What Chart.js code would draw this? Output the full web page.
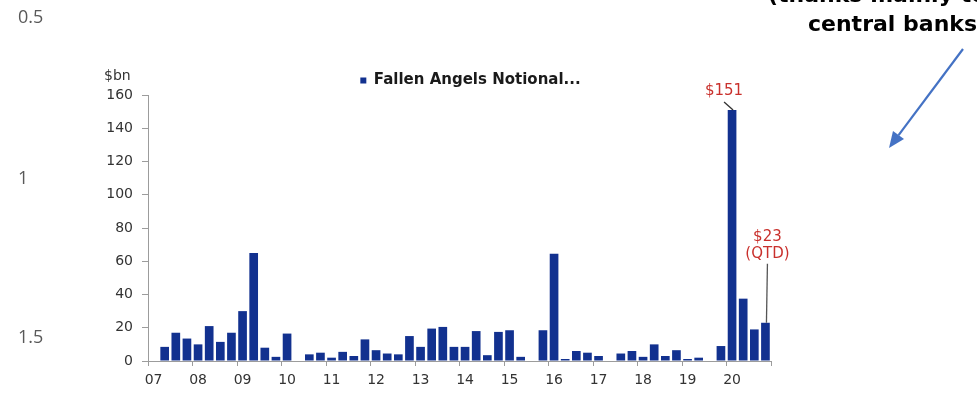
<!DOCTYPE html>
<html>
<head>
<meta charset="utf-8">
<script src="https://cdn.jsdelivr.net/npm/chart.js@4/dist/chart.umd.min.js"></script>
<style>
  html, body { margin: 0; padding: 0; background: #fff; width: 977px; height: 401px; overflow: hidden; }
  #wrap { position: relative; width: 977px; height: 401px; overflow: hidden; }
  #chart { position: absolute; left: 0; top: 0; }
  .side { position: absolute; left: 18px; font-family: "Open Sans", "Liberation Sans", sans-serif; font-size: 18px; color: #595959; line-height: 1; }
  .note { position: absolute; font-family: "DejaVu Sans", sans-serif; font-weight: bold; font-size: 22px; color: #000; white-space: nowrap; line-height: 1; }
  #arrow { position: absolute; left: 0; top: 0; }
</style>
</head>
<body>
<div id="wrap">
  <canvas id="chart" width="977" height="401"></canvas>
  <div class="side" style="top:7px">0.5</div>
  <div class="side" style="top:168px">1</div>
  <div class="side" style="top:327px">1.5</div>
  <div class="note" style="left:768px; top:-16px">(thanks mainly to</div>
  <div class="note" style="left:808px; top:13px">central banks)</div>
  <svg id="arrow" width="977" height="401">
    <line x1="963" y1="49" x2="898.6" y2="135.2" stroke="#4472c4" stroke-width="2.2"/>
    <polygon points="889,148 904,139 893,131" fill="#4472c4"/>
  </svg>
</div>
<script>
// Quarterly fallen-angel volumes, 2007 Q1 – 2020 Q4 ($bn)
const yearLabels = ['07', '08', '09', '10', '11', '12', '13', '14', '15', '16', '17', '18', '19', '20'];
const quarterNames = ['Q1', 'Q2', 'Q3', 'Q4'];
const quarterLabels = yearLabels.flatMap(y => quarterNames.map(q => y + q));

const fallenAngelsNotional = [
  null, 8.5, 17, 13.5,   // 07
  10, 21, 11.5, 17,      // 08
  30, 65, 8, 2.5,        // 09
  16.5, 0, 4, 5,         // 10
  2, 5.5, 3, 13,         // 11
  6.5, 4.5, 4, 15,       // 12
  8.5, 19.5, 20.5, 8.5,  // 13
  8.5, 18, 3.5, 17.5,    // 14
  18.5, 2.5, 0, 18.5,    // 15
  64.5, 1.2, 6, 5,       // 16
  3, 0, 4.5, 6,          // 17
  2.5, 10, 3, 6.5,       // 18
  1.2, 2, 0, 9,          // 19
  151, 37.5, 19, 23      // 20
];

const yTicks = [0, 20, 40, 60, 80, 100, 120, 140, 160];
const seriesName = 'Fallen Angels Notional...';
const unitLabel = '$bn';
const qtdLabel = '(QTD)';

const barBlue = '#12318f';
const noteRed = '#c9302c';
const axisGrey = '#9c9c9c';
const tickText = '#333333';

// Nudge the legend a little right and down from its centred slot
const legendNudge = {
  id: 'legendNudge',
  afterLayout(chart) {
    const lg = chart.legend;
    if (!lg) return;
    lg.left += 11; lg.right += 11;
    lg.top += 3; lg.bottom += 3;
  }
};

// Value call-outs on the record quarter and the latest (quarter-to-date) bar
const barNotes = {
  id: 'barNotes',
  afterDatasetsDraw(chart) {
    const ctx = chart.ctx;
    const area = chart.chartArea;
    const bars = chart.getDatasetMeta(0).data;
    ctx.save();

    ctx.font = '14px "DejaVu Sans"';
    ctx.fillStyle = tickText;
    ctx.textAlign = 'left';
    ctx.textBaseline = 'middle';
    ctx.fillText(unitLabel, area.left - 44, area.top - 19);

    let iPeak = 0;
    fallenAngelsNotional.forEach((v, i) => { if (v !== null && v > fallenAngelsNotional[iPeak]) iPeak = i; });
    const pk = bars[iPeak];
    ctx.font = '15px "DejaVu Sans"';
    ctx.fillStyle = noteRed;
    ctx.textAlign = 'center';
    ctx.fillText('$' + fallenAngelsNotional[iPeak], pk.x - 8, pk.y - 19);
    ctx.strokeStyle = '#333';
    ctx.lineWidth = 1.3;
    ctx.beginPath();
    ctx.moveTo(pk.x - 8, pk.y - 8);
    ctx.lineTo(pk.x + 1, pk.y);
    ctx.stroke();

    const iLast = fallenAngelsNotional.length - 1;
    const lb = bars[iLast];
    ctx.fillStyle = noteRed;
    ctx.fillText('$' + fallenAngelsNotional[iLast], lb.x + 2, lb.y - 86);
    ctx.fillText(qtdLabel, lb.x + 2, lb.y - 69);
    ctx.strokeStyle = '#555';
    ctx.beginPath();
    ctx.moveTo(lb.x + 2, lb.y - 59);
    ctx.lineTo(lb.x + 1, lb.y);
    ctx.stroke();

    ctx.restore();
  }
};

new Chart(document.getElementById('chart'), {
  type: 'bar',
  data: {
    labels: quarterLabels,
    datasets: [{
      label: seriesName,
      data: fallenAngelsNotional,
      backgroundColor: barBlue,
      borderWidth: 0,
      barPercentage: 0.78,
      categoryPercentage: 1.0
    }]
  },
  options: {
    responsive: false,
    animation: false,
    events: [],
    layout: { padding: { top: 60, right: 206, bottom: 0, left: 0 } },
    plugins: {
      tooltip: { enabled: false },
      legend: {
        position: 'top',
        fullSize: false,
        labels: {
          usePointStyle: true,
          pointStyle: 'rect',
          boxWidth: 6,
          boxHeight: 6,
          padding: 10,
          color: '#1a1a1a',
          font: { family: 'DejaVu Sans', size: 15, weight: 'bold' }
        }
      }
    },
    scales: {
      x: {
        offset: true,
        grid: {
          offset: true,
          drawOnChartArea: false,
          tickLength: 5,
          tickColor: c => (c.index === undefined || c.index % 4 === 0) ? axisGrey : 'rgba(0,0,0,0)'
        },
        border: { color: axisGrey, width: 1 },
        ticks: {
          autoSkip: false,
          maxRotation: 0,
          minRotation: 0,
          padding: 6,
          color: tickText,
          font: { family: 'DejaVu Sans', size: 14 },
          callback: (v, i) => (i % 4 === 0 ? yearLabels[i / 4] : '')
        },
        afterFit: s => { s.height = 40; }
      },
      y: {
        min: 0,
        max: 160,
        afterBuildTicks: s => { s.ticks = yTicks.map(v => ({ value: v })); },
        grid: { drawOnChartArea: false, tickLength: 6, tickColor: axisGrey },
        border: { color: axisGrey, width: 1 },
        ticks: {
          padding: 9,
          color: tickText,
          font: { family: 'DejaVu Sans', size: 14 }
        },
        afterFit: s => { s.width = 148; }
      }
    }
  },
  plugins: [legendNudge, barNotes]
});
</script>
</body>
</html>
